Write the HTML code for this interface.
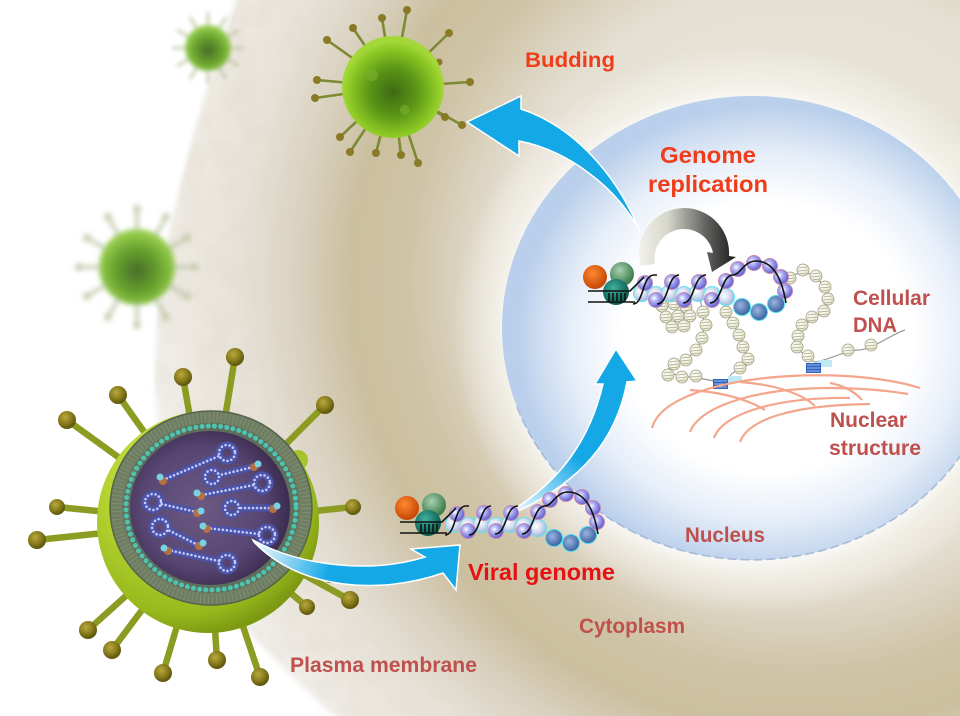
<!DOCTYPE html>
<html><head><meta charset="utf-8">
<style>
html,body{margin:0;padding:0;background:#fff;}
svg{display:block;}
text{font-family:"Liberation Sans",Arial,sans-serif;font-weight:bold;}
</style></head><body>
<svg width="960" height="716" viewBox="0 0 960 716" xmlns="http://www.w3.org/2000/svg">
<defs>
 <radialGradient id="cellG" gradientUnits="userSpaceOnUse" cx="800" cy="280" r="660">
  <stop offset="0" stop-color="#ece9e0"/>
  <stop offset="0.45" stop-color="#e5e0d3"/>
  <stop offset="0.53" stop-color="#d9d0bb"/>
  <stop offset="0.6" stop-color="#cec3a5"/>
  <stop offset="0.68" stop-color="#cbbf9f"/>
  <stop offset="0.76" stop-color="#d9d1bf"/>
  <stop offset="0.85" stop-color="#e7e2d8"/>
  <stop offset="0.95" stop-color="#eeeae3"/>
  <stop offset="1" stop-color="#f4f2ee"/>
 </radialGradient>
 <radialGradient id="halo" cx="0.5" cy="0.5" r="0.5">
  <stop offset="0" stop-color="#fff" stop-opacity="1"/>
  <stop offset="0.8" stop-color="#fff" stop-opacity="0.85"/>
  <stop offset="0.86" stop-color="#fbfaf6" stop-opacity="0.55"/>
  <stop offset="1" stop-color="#fff" stop-opacity="0"/>
 </radialGradient>
 <radialGradient id="nucG" cx="0.53" cy="0.52" r="0.5">
  <stop offset="0" stop-color="#ffffff"/>
  <stop offset="0.58" stop-color="#ffffff"/>
  <stop offset="0.78" stop-color="#e8eff9"/>
  <stop offset="0.93" stop-color="#c9daf0"/>
  <stop offset="1" stop-color="#b9cfeb"/>
 </radialGradient>
 <filter id="soft" x="-5%" y="-5%" width="110%" height="110%"><feGaussianBlur stdDeviation="3"/></filter>
 <filter id="blur2" x="-30%" y="-30%" width="160%" height="160%"><feGaussianBlur stdDeviation="2"/></filter>
 <filter id="blur3" x="-30%" y="-30%" width="160%" height="160%"><feGaussianBlur stdDeviation="2.6"/></filter>
 <filter id="tex" x="0" y="0" width="100%" height="100%">
  <feTurbulence type="fractalNoise" baseFrequency="0.035" numOctaves="3" seed="4"/>
  <feColorMatrix type="matrix" values="0 0 0 0 0.70  0 0 0 0 0.66  0 0 0 0 0.58  0 0 0 -1.6 0.95"/>
 </filter>
 <radialGradient id="tvG" cx="0.5" cy="0.55" r="0.5">
  <stop offset="0" stop-color="#3e6a12"/>
  <stop offset="0.45" stop-color="#5a9416"/>
  <stop offset="0.85" stop-color="#8cc824"/>
  <stop offset="1" stop-color="#a4d83a"/>
 </radialGradient>
 <radialGradient id="bvG" cx="0.5" cy="0.55" r="0.5">
  <stop offset="0" stop-color="#345e10"/>
  <stop offset="0.6" stop-color="#5a9a1a"/>
  <stop offset="1" stop-color="#8cc83a"/>
 </radialGradient>
 <radialGradient id="bodyG" cx="0.38" cy="0.32" r="0.7">
  <stop offset="0" stop-color="#dcf070"/>
  <stop offset="0.5" stop-color="#b4d230"/>
  <stop offset="0.85" stop-color="#98b81c"/>
  <stop offset="1" stop-color="#7c9812"/>
 </radialGradient>
 <radialGradient id="headG" cx="0.4" cy="0.35" r="0.6">
  <stop offset="0" stop-color="#b8a840"/>
  <stop offset="0.6" stop-color="#8a7e1c"/>
  <stop offset="1" stop-color="#625a0e"/>
 </radialGradient>
 <radialGradient id="purG" cx="0.45" cy="0.5" r="0.55">
  <stop offset="0" stop-color="#6c5a84"/>
  <stop offset="0.7" stop-color="#574672"/>
  <stop offset="1" stop-color="#3c2c50"/>
 </radialGradient>
 <radialGradient id="pb" cx="0.38" cy="0.38" r="0.6">
  <stop offset="0" stop-color="#ffffff"/>
  <stop offset="0.35" stop-color="#b8b8f6"/>
  <stop offset="1" stop-color="#6464d2"/>
 </radialGradient>
 <radialGradient id="lb" cx="0.4" cy="0.4" r="0.6">
  <stop offset="0" stop-color="#ffffff"/>
  <stop offset="0.5" stop-color="#d6e0f2"/>
  <stop offset="1" stop-color="#a4b8da"/>
 </radialGradient>
 <radialGradient id="db" cx="0.4" cy="0.4" r="0.6">
  <stop offset="0" stop-color="#9ab4e0"/>
  <stop offset="1" stop-color="#3c62a0"/>
 </radialGradient>
 <radialGradient id="orG" cx="0.4" cy="0.35" r="0.6">
  <stop offset="0" stop-color="#ff8a30"/>
  <stop offset="1" stop-color="#c84a08"/>
 </radialGradient>
 <radialGradient id="grG" cx="0.4" cy="0.35" r="0.6">
  <stop offset="0" stop-color="#a8d0b0"/>
  <stop offset="1" stop-color="#3e8050"/>
 </radialGradient>
 <radialGradient id="tlG" cx="0.4" cy="0.35" r="0.6">
  <stop offset="0" stop-color="#40b0a0"/>
  <stop offset="1" stop-color="#0c5e52"/>
 </radialGradient>
 <radialGradient id="nsG" cx="0.4" cy="0.4" r="0.6">
  <stop offset="0" stop-color="#ffffff"/>
  <stop offset="1" stop-color="#e6e4c4"/>
 </radialGradient>
 <linearGradient id="greyArr" gradientUnits="userSpaceOnUse" x1="638" y1="0" x2="738" y2="0">
  <stop offset="0" stop-color="#f2f2ea"/>
  <stop offset="0.3" stop-color="#d6d6cc"/>
  <stop offset="0.65" stop-color="#6a6a68"/>
  <stop offset="1" stop-color="#141414"/>
 </linearGradient>
 <linearGradient id="a1G" gradientUnits="userSpaceOnUse" x1="253" y1="540" x2="330" y2="570">
  <stop offset="0" stop-color="#ffffff"/>
  <stop offset="1" stop-color="#14a8e6"/>
 </linearGradient>
 <linearGradient id="a2G" gradientUnits="userSpaceOnUse" x1="508" y1="514" x2="570" y2="450">
  <stop offset="0" stop-color="#ffffff"/>
  <stop offset="1" stop-color="#14a8e6"/>
 </linearGradient>
 <g id="ns">
  <circle r="6" fill="url(#nsG)" stroke="#9c9c84" stroke-width="0.8"/>
  <path d="M-4,-2 L4,-3 M-5,1 L5,0 M-4,4 L4,3" stroke="#a8a890" stroke-width="0.8" fill="none"/>
 </g>
 <g id="gen">
  <circle cx="407" cy="508" r="12" fill="url(#orG)"/>
  <circle cx="434" cy="505" r="12" fill="url(#grG)"/>
  <circle cx="428" cy="523" r="13" fill="url(#tlG)"/>
  <g fill="url(#lb)" stroke="#5ee4f2" stroke-width="1">
   <circle cx="454" cy="524" r="8.5"/><circle cx="468" cy="526" r="8.5"/><circle cx="482" cy="524" r="8.5"/>
   <circle cx="496" cy="526" r="8.5"/><circle cx="510" cy="524" r="8.5"/><circle cx="524" cy="526" r="8.5"/>
   <circle cx="538" cy="528" r="8.5"/>
  </g>
  <g fill="url(#db)" stroke="#50dcea" stroke-width="1">
   <circle cx="554" cy="538" r="8.5"/><circle cx="571" cy="543" r="8.5"/><circle cx="588" cy="535" r="8.5"/>
  </g>
  <g fill="url(#pb)" stroke="#c888b4" stroke-width="1">
   <circle cx="457" cy="514" r="7.5"/><circle cx="468" cy="531" r="7.5"/><circle cx="484" cy="513" r="7.5"/>
   <circle cx="496" cy="531" r="7.5"/><circle cx="511" cy="513" r="7.5"/><circle cx="524" cy="531" r="7.5"/>
   <circle cx="538" cy="512" r="7.5"/><circle cx="550" cy="500" r="7.5"/><circle cx="566" cy="494" r="7.5"/>
   <circle cx="582" cy="497" r="7.5"/><circle cx="593" cy="508" r="7.5"/><circle cx="597" cy="522" r="7.5"/>
  </g>
  <g stroke="#111" stroke-width="1.6" fill="none">
   <path d="M400,522 L442,522 L456,508 M400,533 L447,533"/>
   <path d="M421,524 V532 M425,524 V532 M429,524 V532 M433,524 V532 M437,524 V532"/>
   <path d="M445,535 C456,535 454,506 466,506 L469,506"/>
   <path d="M469,535 C481,535 479,506 491,506"/>
   <path d="M495,534 C507,534 505,506 518,506"/>
   <path d="M522,534 C534,534 533,506 545,506 C552,506 556,492 568,492 C588,492 595,516 598,534"/>
  </g>
 </g>
</defs>

<!-- cell background -->
<g filter="url(#soft)">
 <path d="M239,-10 C215,60 190,140 170,230 C150,330 148,430 175,520 C200,590 262,650 345,726 L970,726 L970,-10 Z" fill="url(#cellG)"/>
</g>
<!-- membrane texture -->
<clipPath id="cellClip"><path d="M239,0 C215,60 190,140 170,230 C150,330 148,430 175,520 C200,590 262,650 345,716 L960,716 L960,0 Z"/></clipPath>
<g clip-path="url(#cellClip)" opacity="0.35">
 <mask id="bandMask">
  <rect width="960" height="716" fill="#000"/>
  <circle cx="800" cy="290" r="640" fill="none" stroke="#fff" stroke-width="200" filter="url(#soft)"/>
 </mask>
 <rect width="960" height="716" filter="url(#tex)" mask="url(#bandMask)"/>
</g>
<!-- nucleus halo -->
<ellipse cx="752" cy="330" rx="300" ry="285" fill="url(#halo)"/>
<!-- nucleus -->
<ellipse cx="752" cy="328" rx="250" ry="232" fill="url(#nucG)"/>
<path d="M517,407 A250,232 0 0,0 987,407" fill="none" stroke="#9fb4d2" stroke-width="1.6" stroke-dasharray="9 4" opacity="0.85"/>

<!-- blurred viruses -->
<g filter="url(#blur2)" opacity="0.9">
 <g stroke="#b8c29c" stroke-width="2.5">
  <path d="M208,48 L244,48 M208,48 L239,66 M208,48 L226,79 M208,48 L208,84 M208,48 L190,79 M208,48 L177,66 M208,48 L172,48 M208,48 L177,30 M208,48 L190,17 M208,48 L208,12 M208,48 L226,17 M208,48 L239,30"/>
 </g>
 <circle cx="208" cy="48" r="23" fill="url(#bvG)"/>
</g>
<g filter="url(#blur3)" opacity="0.9">
 <g stroke="#bcc4a4" stroke-width="3.5">
  <path d="M137,267 L195,267 M137,267 L187,296 M137,267 L166,317 M137,267 L137,325 M137,267 L108,317 M137,267 L87,296 M137,267 L79,267 M137,267 L87,238 M137,267 L108,217 M137,267 L137,209 M137,267 L166,217 M137,267 L187,238"/>
 </g>
 <g fill="#c4c8a8">
  <circle cx="195" cy="267" r="4"/><circle cx="187" cy="296" r="4"/><circle cx="166" cy="317" r="4"/><circle cx="137" cy="325" r="4"/><circle cx="108" cy="317" r="4"/><circle cx="87" cy="296" r="4"/><circle cx="79" cy="267" r="4"/><circle cx="87" cy="238" r="4"/><circle cx="108" cy="217" r="4"/><circle cx="137" cy="209" r="4"/><circle cx="166" cy="217" r="4"/><circle cx="187" cy="238" r="4"/>
 </g>
 <circle cx="137" cy="267" r="38" fill="url(#bvG)"/>
</g>

<!-- top sharp virus -->
<g>
 <g stroke="#7c8a34" stroke-width="2.6" stroke-linecap="round">
  <path d="M393,87 L407,10 M393,87 L382,18 M393,87 L353,28 M393,87 L327,40 M393,87 L449,33 M393,87 L317,80 M393,87 L315,98 M393,87 L470,82 M393,87 L340,137 M393,87 L350,152 M393,87 L376,153 M393,87 L401,155 M393,87 L418,163 M393,87 L445,117 M393,87 L462,125 M393,87 L439,62"/>
 </g>
 <g fill="#8a7a26">
  <circle cx="407" cy="10" r="4"/><circle cx="382" cy="18" r="4"/><circle cx="353" cy="28" r="4"/><circle cx="327" cy="40" r="4"/><circle cx="449" cy="33" r="4"/><circle cx="317" cy="80" r="4"/><circle cx="315" cy="98" r="4"/><circle cx="470" cy="82" r="4"/><circle cx="340" cy="137" r="4"/><circle cx="350" cy="152" r="4"/><circle cx="376" cy="153" r="4"/><circle cx="401" cy="155" r="4"/><circle cx="418" cy="163" r="4"/><circle cx="445" cy="117" r="4"/><circle cx="462" cy="125" r="4"/><circle cx="439" cy="62" r="3.5"/>
 </g>
 <circle cx="393" cy="87" r="51" fill="url(#tvG)"/>
 <circle cx="372" cy="75" r="6" fill="#7ab02a" opacity="0.6"/>
 <circle cx="405" cy="110" r="5" fill="#7ab02a" opacity="0.6"/>
</g>

<!-- cutaway virus -->
<g>
 <g stroke="#8c9c22" stroke-width="6.5" stroke-linecap="round">
  <path d="M208,522 L235,357 M208,522 L183,377 M208,522 L118,395 M208,522 L67,420 M208,522 L325,405 M208,522 L57,507 M208,522 L37,540 M208,522 L353,507 M208,522 L350,600 M208,522 L330,575 M208,522 L307,607 M208,522 L88,630 M208,522 L112,650 M208,522 L163,673 M208,522 L217,660 M208,522 L260,677"/>
 </g>
 <g fill="url(#headG)">
  <circle cx="235" cy="357" r="9"/><circle cx="183" cy="377" r="9"/><circle cx="118" cy="395" r="9"/><circle cx="67" cy="420" r="9"/><circle cx="325" cy="405" r="9"/><circle cx="57" cy="507" r="8"/><circle cx="37" cy="540" r="9"/><circle cx="353" cy="507" r="8"/><circle cx="350" cy="600" r="9"/><circle cx="330" cy="575" r="8"/><circle cx="307" cy="607" r="8"/><circle cx="88" cy="630" r="9"/><circle cx="112" cy="650" r="9"/><circle cx="163" cy="673" r="9"/><circle cx="217" cy="660" r="9"/><circle cx="260" cy="677" r="9"/>
 </g>
 <circle cx="208" cy="522" r="111" fill="url(#bodyG)"/>
 <circle cx="298" cy="460" r="10" fill="#a6c42a"/>
 <!-- cut face -->
 <ellipse cx="211" cy="508" rx="101" ry="97" fill="#6f7d62" stroke="#55634a" stroke-width="1.5"/>
 <ellipse cx="211" cy="508" rx="95" ry="91" fill="none" stroke="#8a9a7c" stroke-width="10" stroke-dasharray="1 3" opacity="0.6"/>
 <ellipse cx="211" cy="508" rx="88" ry="85" fill="#5e6e5c"/>
 <ellipse cx="211" cy="508" rx="85" ry="82" fill="none" stroke="#4ec4b0" stroke-width="5" stroke-dasharray="0 6.2" stroke-linecap="round"/>
 <ellipse cx="210" cy="508" rx="80" ry="77" fill="url(#purG)"/>
 <!-- strands -->
 <g fill="none" stroke-linecap="round">
  <g stroke="#4c54aa" stroke-width="7">
   <path d="M163,480 L219,456"/><path d="M253,467 L220,475"/><path d="M202,495 L254,485"/><path d="M197,512 L161,504"/>
   <path d="M273,508 L240,508"/><path d="M198,545 L168,530"/><path d="M207,528 L259,534"/><path d="M168,550 L219,561"/>
   <circle cx="227" cy="453" r="8"/><circle cx="212" cy="477" r="7"/><circle cx="262" cy="483" r="8"/><circle cx="153" cy="502" r="8"/>
   <circle cx="232" cy="508" r="7"/><circle cx="160" cy="527" r="8"/><circle cx="267" cy="535" r="8"/><circle cx="227" cy="563" r="8"/>
  </g>
  <g stroke="#c6cafa" stroke-width="2.6" stroke-dasharray="0 4">
   <path d="M163,480 L219,456"/><path d="M253,467 L220,475"/><path d="M202,495 L254,485"/><path d="M197,512 L161,504"/>
   <path d="M273,508 L240,508"/><path d="M198,545 L168,530"/><path d="M207,528 L259,534"/><path d="M168,550 L219,561"/>
   <circle cx="227" cy="453" r="8"/><circle cx="212" cy="477" r="7"/><circle cx="262" cy="483" r="8"/><circle cx="153" cy="502" r="8"/>
   <circle cx="232" cy="508" r="7"/><circle cx="160" cy="527" r="8"/><circle cx="267" cy="535" r="8"/><circle cx="227" cy="563" r="8"/>
  </g>
 </g>
 <g>
  <circle cx="163" cy="481" r="4" fill="#b47040"/><circle cx="160" cy="477" r="3.5" fill="#78d2e2"/>
  <circle cx="254" cy="467" r="4" fill="#b47040"/><circle cx="258" cy="464" r="3.5" fill="#78d2e2"/>
  <circle cx="201" cy="496" r="4" fill="#b47040"/><circle cx="197" cy="493" r="3.5" fill="#78d2e2"/>
  <circle cx="197" cy="513" r="4" fill="#b47040"/><circle cx="201" cy="511" r="3.5" fill="#78d2e2"/>
  <circle cx="273" cy="509" r="4" fill="#b47040"/><circle cx="277" cy="506" r="3.5" fill="#78d2e2"/>
  <circle cx="199" cy="546" r="4" fill="#b47040"/><circle cx="203" cy="543" r="3.5" fill="#78d2e2"/>
  <circle cx="207" cy="529" r="4" fill="#b47040"/><circle cx="203" cy="526" r="3.5" fill="#78d2e2"/>
  <circle cx="168" cy="551" r="4" fill="#b47040"/><circle cx="164" cy="548" r="3.5" fill="#78d2e2"/>
 </g>
</g>

<!-- arrow: virus to viral genome -->
<path d="M253,540 C300,566 370,574 425,557 L411,549 L460,545 L456,590 L443,573 C380,595 300,590 254,542 Z" fill="url(#a1G)" stroke="#ffffff" stroke-width="1.5" stroke-linejoin="miter"/>

<!-- arrow: genome to nucleus -->
<path d="M508,513 C560,482 590,440 603,384 L595,384 L616,349 L637,381 L627,382 C616,440 582,482 510,515 Z" fill="url(#a2G)" stroke="#ffffff" stroke-width="1.5"/>

<!-- budding arrow -->
<path d="M467,122 L521,96 L521,109 C570,125 615,170 640,232 C630,212 612,190 590,174 C570,158 545,146 519,141 L519,156 Z" fill="#14a8e6" stroke="#ffffff" stroke-width="1.5"/>

<!-- cellular DNA chains -->
<g fill="none" stroke="#9a9a9a" stroke-width="1.2">
 <path d="M700,300 C706,320 705,340 695,352 C685,362 668,362 668,372 C680,378 700,376 720,383"/>
 <path d="M726,312 C735,325 745,345 748,362 C745,372 735,368 730,376"/>
 <path d="M790,278 C805,265 824,278 828,298 C830,315 805,318 800,332 C795,345 800,356 815,362 C830,360 845,350 860,350 C875,348 890,335 905,330"/>
</g>
<g>
 <use href="#ns" transform="translate(662,306)"/><use href="#ns" transform="translate(674,304)"/><use href="#ns" transform="translate(686,307)"/>
 <use href="#ns" transform="translate(666,317)"/><use href="#ns" transform="translate(678,316)"/><use href="#ns" transform="translate(690,316)"/>
 <use href="#ns" transform="translate(672,327)"/><use href="#ns" transform="translate(684,326)"/>
 <use href="#ns" transform="translate(703,312)"/><use href="#ns" transform="translate(706,325)"/><use href="#ns" transform="translate(702,338)"/>
 <use href="#ns" transform="translate(696,350)"/><use href="#ns" transform="translate(686,360)"/><use href="#ns" transform="translate(674,364)"/>
 <use href="#ns" transform="translate(668,375)"/><use href="#ns" transform="translate(682,377)"/><use href="#ns" transform="translate(696,376)"/>
 <use href="#ns" transform="translate(726,312)"/><use href="#ns" transform="translate(733,323)"/><use href="#ns" transform="translate(739,335)"/>
 <use href="#ns" transform="translate(743,347)"/><use href="#ns" transform="translate(748,359)"/><use href="#ns" transform="translate(740,368)"/>
 <use href="#ns" transform="translate(790,278)"/><use href="#ns" transform="translate(803,270)"/><use href="#ns" transform="translate(816,276)"/>
 <use href="#ns" transform="translate(825,287)"/><use href="#ns" transform="translate(828,299)"/><use href="#ns" transform="translate(824,311)"/>
 <use href="#ns" transform="translate(812,317)"/><use href="#ns" transform="translate(802,325)"/><use href="#ns" transform="translate(798,336)"/>
 <use href="#ns" transform="translate(797,347)"/><use href="#ns" transform="translate(808,356)"/><use href="#ns" transform="translate(848,350)"/>
 <use href="#ns" transform="translate(871,345)"/>
</g>
<!-- anchors -->
<g>
 <rect x="728" y="376" width="14" height="7" fill="#bfe8f4"/>
 <rect x="713" y="379" width="15" height="10" fill="#3060c0"/>
 <path d="M714,381 H727 M714,384 H727 M714,387 H727" stroke="#a0c0f0" stroke-width="1"/>
 <rect x="818" y="360" width="14" height="7" fill="#bfe8f4"/>
 <rect x="806" y="363" width="15" height="10" fill="#3060c0"/>
 <path d="M807,365 H820 M807,368 H820 M807,371 H820" stroke="#a0c0f0" stroke-width="1"/>
</g>
<!-- nuclear structure -->
<g fill="none" stroke="#f4a58c" stroke-width="2.2">
 <path d="M652,428 C660,398 720,380 790,376 C850,373 895,380 920,388"/>
 <path d="M690,432 C700,405 760,388 830,388 C865,388 890,391 908,394"/>
 <path d="M714,438 C722,414 775,397 850,398"/>
 <path d="M740,442 C748,420 790,405 870,404"/>
 <path d="M690,390 C720,392 745,398 765,410"/>
 <path d="M740,382 C770,384 800,392 815,406"/>
 <path d="M830,383 C845,386 855,392 862,400"/>
</g>

<!-- genome complexes -->
<use href="#gen"/>
<use href="#gen" transform="translate(188,-231)"/>

<!-- genome replication arrow -->
<path d="M641,266 A45,45 0 1,1 729,256 L736,257 L712,272 L707,252 L713,253 A29,29 0 1,0 655,264 Z" fill="url(#greyArr)"/>

<!-- labels -->
<text x="525" y="67" font-size="21" fill="#f03c18" textLength="90" lengthAdjust="spacingAndGlyphs">Budding</text>
<text x="660" y="163" font-size="23" fill="#f03c18" textLength="96" lengthAdjust="spacingAndGlyphs">Genome</text>
<text x="648" y="192" font-size="23" fill="#f03c18" textLength="120" lengthAdjust="spacingAndGlyphs">replication</text>
<text x="853" y="305" font-size="21" fill="#c0504d" textLength="77" lengthAdjust="spacingAndGlyphs">Cellular</text>
<text x="853" y="332" font-size="21" fill="#c0504d" textLength="44" lengthAdjust="spacingAndGlyphs">DNA</text>
<text x="830" y="427" font-size="21" fill="#c0504d" textLength="77" lengthAdjust="spacingAndGlyphs">Nuclear</text>
<text x="829" y="455" font-size="21" fill="#c0504d" textLength="92" lengthAdjust="spacingAndGlyphs">structure</text>
<text x="685" y="542" font-size="21" fill="#c0504d" textLength="80" lengthAdjust="spacingAndGlyphs">Nucleus</text>
<text x="468" y="580" font-size="23" fill="#e61212" textLength="147" lengthAdjust="spacingAndGlyphs">Viral genome</text>
<text x="579" y="633" font-size="21" fill="#c0504d" textLength="106" lengthAdjust="spacingAndGlyphs">Cytoplasm</text>
<text x="290" y="672" font-size="21" fill="#c0504d" textLength="187" lengthAdjust="spacingAndGlyphs">Plasma membrane</text>
</svg>
</body></html>
